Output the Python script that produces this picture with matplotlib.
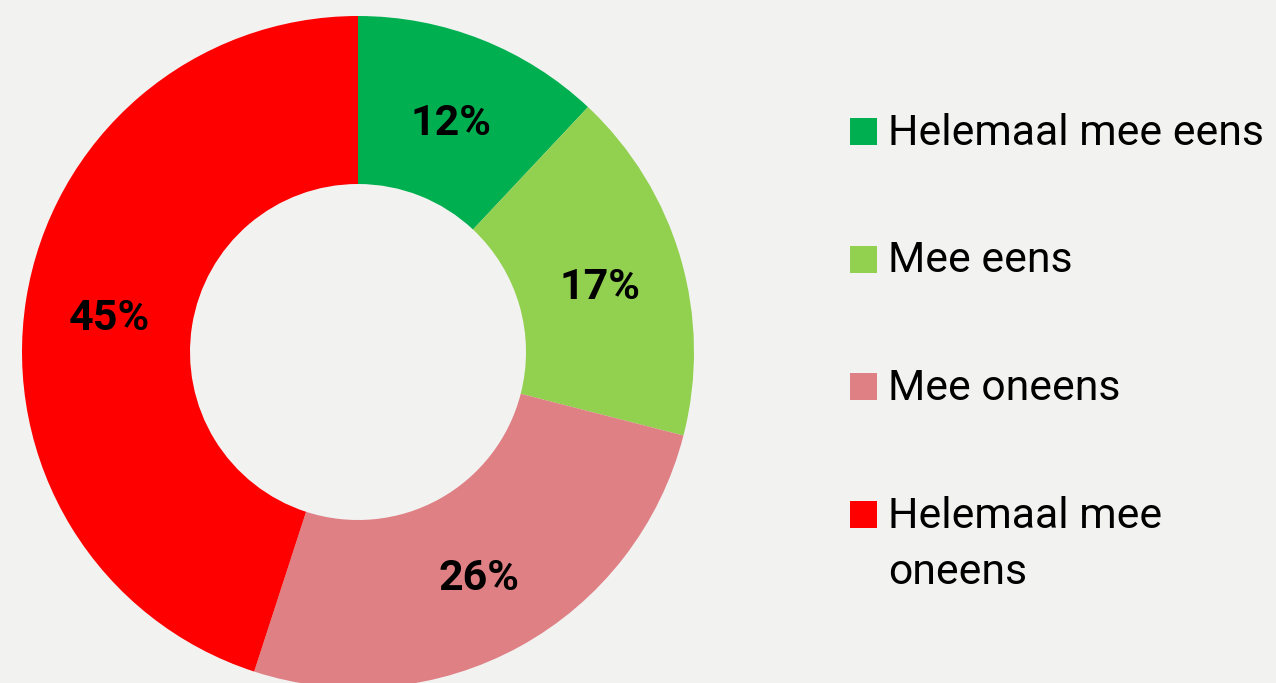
import matplotlib
matplotlib.use("Agg")
import matplotlib.pyplot as plt
from matplotlib.patches import Rectangle
from matplotlib.transforms import offset_copy

categories = ["Helemaal mee eens", "Mee eens", "Mee oneens", "Helemaal mee\noneens"]
values = [12, 17, 26, 45]
colors = ["#00b050", "#92d050", "#df8085", "#ff0000"]
bg = "#f2f2f1"

plt.rcParams['font.family'] = ['Roboto', 'DejaVu Sans']

W, H = 1276, 683
fig = plt.figure(figsize=(W / 100, H / 100), dpi=100, facecolor=bg)

cx, cy, R = 358, 352, 336
ax = fig.add_axes([(cx - R) / W, (H - cy - R) / H, 2 * R / W, 2 * R / H])
ax.set_facecolor(bg)
wedges, texts, autotexts = ax.pie(
    values, colors=colors, startangle=90, counterclock=False,
    radius=1, wedgeprops=dict(width=0.5, linewidth=0),
    autopct='%d%%', pctdistance=0.75,
    textprops=dict(fontsize=31, fontweight='bold', color='black'))
for t in autotexts:
    t.set_transform(offset_copy(ax.transData, fig=fig, x=0, y=-6, units='dots'))
ax.set_xlim(-1, 1)
ax.set_ylim(-1, 1)
ax.set_aspect('equal')
ax.axis('off')

# legend drawn manually
sq = 27
x_sq = 850
x_txt = 888
base0 = 145
step = 127.5
line_gap = 56
for i, (lab, col) in enumerate(zip(categories, colors)):
    b = base0 + i * step
    fig.patches.append(Rectangle((x_sq / W, (H - b) / H), sq / W, sq / H,
                                 transform=fig.transFigure, facecolor=col,
                                 edgecolor='none'))
    for j, line in enumerate(lab.split("\n")):
        fig.text(x_txt / W, (H - b - j * line_gap) / H, line, fontsize=30.8,
                 color='black', va='baseline', ha='left')

fig.savefig("out.png", dpi=100, facecolor=bg)
